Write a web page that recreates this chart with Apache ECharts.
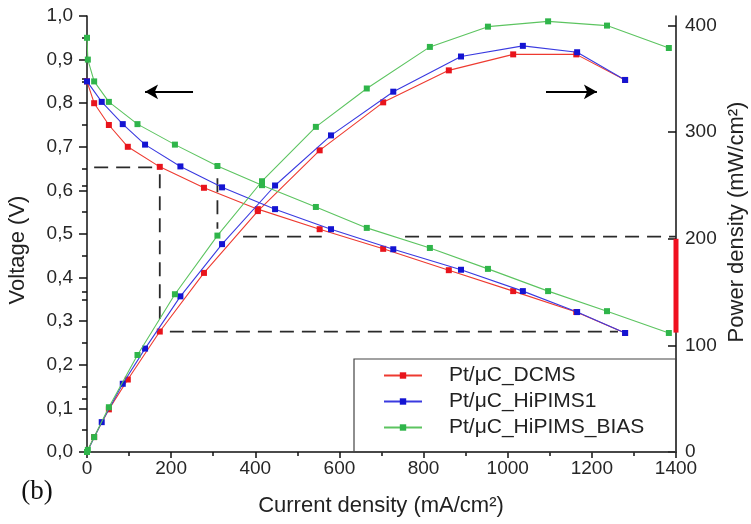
<!DOCTYPE html>
<html>
<head>
<meta charset="utf-8">
<script src="https://cdn.jsdelivr.net/npm/echarts@6/dist/echarts.min.js"></script>
<style>html,body{margin:0;padding:0;background:#fff}#c{width:751px;height:524px}</style>
</head>
<body>
<div id="c"></div>
<script>
// ---- data ----
const seriesNames = ['Pt/μC_DCMS', 'Pt/μC_HiPIMS1', 'Pt/μC_HiPIMS_BIAS'];

const currentDCMS = [0, 17, 52, 97, 173, 278, 406, 553, 704, 860, 1013, 1163, 1279];
const voltageDCMS = [0.85, 0.80, 0.75, 0.70, 0.654, 0.606, 0.557, 0.511, 0.466, 0.417, 0.369, 0.321, 0.273];
const powerDCMS   = [0, 14, 40, 68, 113, 168, 226, 283, 328, 358, 373, 373, 349];

const currentHiPIMS1 = [0, 35, 85, 138, 222, 321, 447, 580, 728, 889, 1036, 1165, 1279];
const voltageHiPIMS1 = [0.85, 0.803, 0.752, 0.705, 0.655, 0.607, 0.557, 0.511, 0.465, 0.418, 0.369, 0.321, 0.273];
const powerHiPIMS1   = [0, 28, 64, 97, 146, 195, 250, 297, 338, 371, 381, 375, 349];

const currentBIAS = [0, 2, 17, 52, 120, 209, 310, 416, 544, 665, 815, 953, 1096, 1236, 1383];
const voltageBIAS = [0.95, 0.90, 0.85, 0.803, 0.752, 0.705, 0.656, 0.612, 0.562, 0.514, 0.468, 0.420, 0.369, 0.323, 0.273];
const powerBIAS   = [0, 2, 14, 42, 91, 148, 203, 254, 305, 341, 380, 399, 404, 400, 379];

const xTicks = [0, 200, 400, 600, 800, 1000, 1200, 1400];
const voltageTicks = [0, 0.1, 0.2, 0.3, 0.4, 0.5, 0.6, 0.7, 0.8, 0.9, 1.0];
const powerTicks = [0, 100, 200, 300, 400];
const powerMinorTicks = [50, 150, 250, 350];

// dashed guide segments, in (current, voltage) units
const guideSegments = [
  [[17, 0.653], [163, 0.653]],
  [[173, 0.637], [173, 0.305]],
  [[197, 0.276], [1262, 0.276]],
  [[310, 0.628], [310, 0.512]],
  [[371, 0.494], [558, 0.494]],
  [[756, 0.494], [1400, 0.494]]
];
// arrows (current, voltage)
const arrowLeft = [[252, 0.826], [138, 0.826]];
const arrowRight = [[1091, 0.826], [1212, 0.826]];
// red range bar on power axis at max current
const redBar = [[1400, 200], [1400, 112]];

// ---- build ----
const colors = ['#e8141c', '#1414d2', '#2fb54a'];
const lineColors = ['#ee3a30', '#3a3ae0', '#5cc460'];
const zip = (a, b) => a.map((v, i) => [v, b[i]]);
const groups = [
  [currentDCMS, voltageDCMS, powerDCMS],
  [currentHiPIMS1, voltageHiPIMS1, powerHiPIMS1],
  [currentBIAS, voltageBIAS, powerBIAS]
];
const FONT = 'Liberation Sans, Arial, sans-serif';
const series = [];
groups.forEach((g, i) => {
  const common = {
    type: 'line', name: seriesNames[i], symbol: 'rect', symbolSize: 6,
    itemStyle: { color: colors[i] },
    lineStyle: { color: lineColors[i], width: 1.1 },
    z: 3 + i, animation: false
  };
  series.push(Object.assign({}, common, { yAxisIndex: 0, data: zip(g[0], g[1]) }));
  series.push(Object.assign({}, common, { yAxisIndex: 1, data: zip(g[0], g[2]) }));
});
guideSegments.forEach((seg, k) => {
  const s = {
    type: 'line', yAxisIndex: 0, data: seg, symbol: 'none', silent: true,
    lineStyle: { color: '#2a2a2a', width: 1.8, type: [14, 8] }, z: 2, animation: false
  };
  if (k === 0) {
    s.markLine = {
      silent: true, symbol: ['none', 'arrow'], symbolSize: [11, 13], animation: false,
      label: { show: false },
      lineStyle: { color: '#000', width: 2, type: 'solid' },
      data: [
        [{ coord: arrowLeft[0] }, { coord: arrowLeft[1] }],
        [{ coord: arrowRight[0] }, { coord: arrowRight[1] }]
      ]
    };
  }
  series.push(s);
});
series.push({
  type: 'line', yAxisIndex: 1, data: redBar, symbol: 'none', silent: true, clip: false,
  lineStyle: { color: '#f01020', width: 5 }, z: 10, animation: false
});

const axisLine = { show: true, onZero: false, lineStyle: { color: '#111', width: 1.5 } };
const labelStyle = { fontSize: 19, color: '#262626', fontFamily: FONT };

const option = {
  animation: false,
  backgroundColor: '#fff',
  grid: { left: 87, right: 75, top: 16, bottom: 72 },
  xAxis: {
    type: 'value', min: 0, max: 1400, interval: 200,
    axisLine: axisLine,
    axisTick: { show: true, length: 6, lineStyle: { color: '#111', width: 1.5 } },
    minorTick: { show: true, splitNumber: 2, length: 4, lineStyle: { color: '#111', width: 1.5 } },
    splitLine: { show: false },
    axisLabel: Object.assign({ margin: 7, customValues: xTicks, formatter: v => String(v) }, labelStyle)
  },
  yAxis: [
    {
      type: 'value', min: 0, max: 1, interval: 0.1, position: 'left',
      axisLine: axisLine,
      axisTick: { show: true, length: 8, lineStyle: { color: '#111', width: 1.5 } },
      minorTick: { show: true, splitNumber: 2, length: 5, lineStyle: { color: '#111', width: 1.5 } },
      splitLine: { show: false },
      axisLabel: Object.assign({ margin: 14, customValues: voltageTicks,
        formatter: v => v.toFixed(1).replace('.', ',') }, labelStyle)
    },
    {
      type: 'value', min: 0, max: 409, position: 'right',
      axisLine: axisLine,
      axisTick: { show: true, inside: true, length: 8, customValues: powerTicks, lineStyle: { color: '#111', width: 1.5 } },
      splitLine: { show: false },
      axisLabel: Object.assign({ margin: 9, customValues: powerTicks, formatter: v => String(v) }, labelStyle)
    },
    {
      type: 'value', min: 0, max: 409, position: 'right',
      axisLine: { show: false },
      axisTick: { show: true, inside: true, length: 5, customValues: powerMinorTicks, lineStyle: { color: '#111', width: 1.5 } },
      splitLine: { show: false },
      axisLabel: { show: false }
    }
  ],
  legend: {
    data: seriesNames, orient: 'vertical', left: 383, top: 365,
    itemWidth: 38, itemHeight: 8, itemGap: 5, padding: 0,
    textStyle: { fontSize: 21, color: '#222', fontFamily: FONT, padding: [0, 0, 0, 22], lineHeight: 21 },
    selectedMode: false
  },
  graphic: [
    { type: 'rect', shape: { x: 354, y: 359, width: 322, height: 93 }, style: { fill: 'none', stroke: '#444', lineWidth: 1.2 }, z: 1 },
    { type: 'text', x: 381, y: 506, style: { text: 'Current density (mA/cm²)', font: '22px ' + FONT, fill: '#222', textAlign: 'center', textVerticalAlign: 'middle' } },
    { type: 'text', x: 18, y: 250, rotation: Math.PI / 2, style: { text: 'Voltage (V)', font: '22px ' + FONT, fill: '#222', textAlign: 'center', textVerticalAlign: 'middle' } },
    { type: 'text', x: 737, y: 222, rotation: Math.PI / 2, style: { text: 'Power density (mW/cm²)', font: '22px ' + FONT, fill: '#222', textAlign: 'center', textVerticalAlign: 'middle' } },
    { type: 'text', x: 37, y: 492, style: { text: '(b)', font: '27px Liberation Serif, Times New Roman, serif', fill: '#111', textAlign: 'center', textVerticalAlign: 'middle' } }
  ],
  series: series
};
const chart = echarts.init(document.getElementById('c'));
chart.setOption(option);
</script>
</body>
</html>
